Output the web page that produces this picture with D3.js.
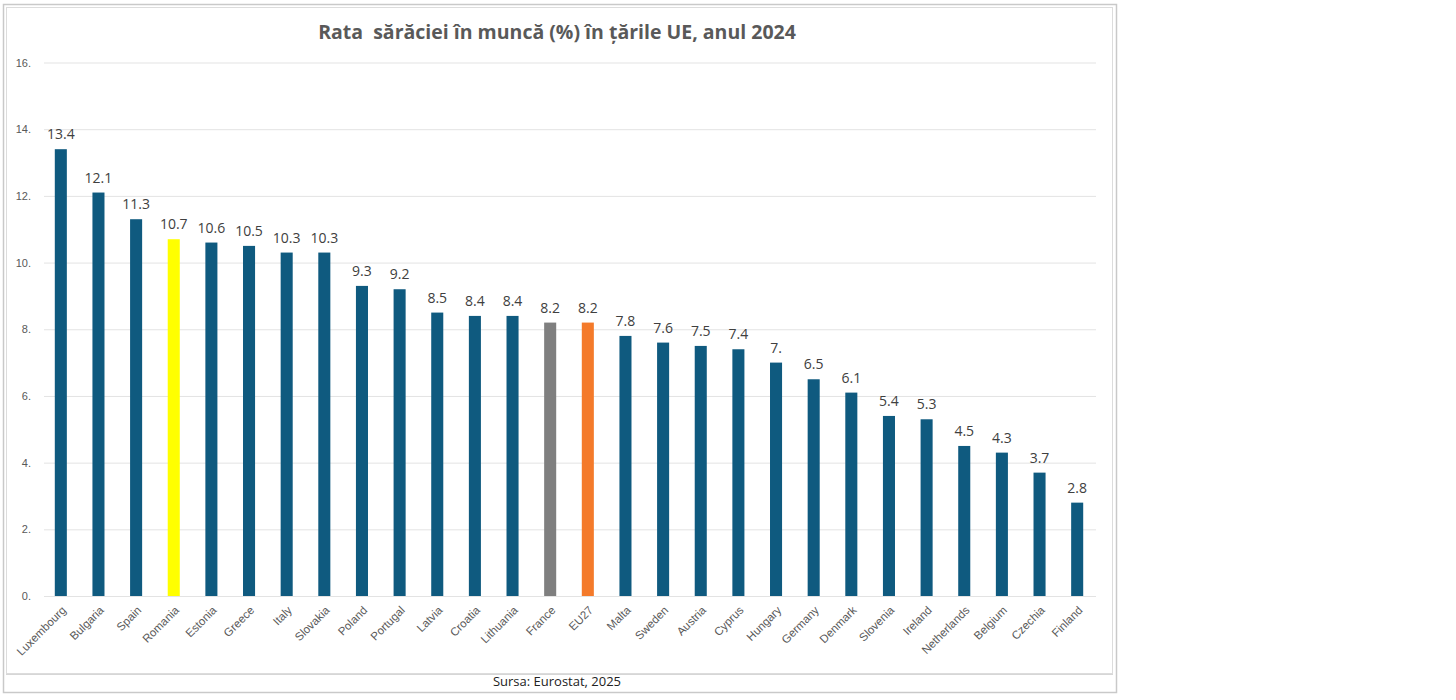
<!DOCTYPE html>
<html>
<head>
<meta charset="utf-8">
<script src="https://cdn.jsdelivr.net/npm/d3@7/dist/d3.min.js"></script>
<style>
  html, body { margin: 0; padding: 0; background: #fff; }
  svg { display: block; }
</style>
</head>
<body>
<svg id="chart" width="1456" height="700"></svg>
<script>
const countries = ["Luxembourg","Bulgaria","Spain","Romania","Estonia","Greece","Italy","Slovakia","Poland","Portugal","Latvia","Croatia","Lithuania","France","EU27","Malta","Sweden","Austria","Cyprus","Hungary","Germany","Denmark","Slovenia","Ireland","Netherlands","Belgium","Czechia","Finland"];
const values = [13.4,12.1,11.3,10.7,10.6,10.5,10.3,10.3,9.3,9.2,8.5,8.4,8.4,8.2,8.2,7.8,7.6,7.5,7.4,7.0,6.5,6.1,5.4,5.3,4.5,4.3,3.7,2.8];
const yTicks = [0,2,4,6,8,10,12,14,16];
const titleText = "Rata  sărăciei în muncă (%) în țările UE, anul 2024";
const sourceText = "Sursa: Eurostat, 2025";
const highlight = { "Romania": "#ffff00", "France": "#7f7f7f", "EU27": "#f47a2a" };
const baseColor = "#0f5a7f";

const data = countries.map((c, i) => ({ country: c, value: values[i] }));
const fmt = v => Number.isInteger(v) ? v + "." : v.toFixed(1);

const svg = d3.select("#chart");

// frame (spreadsheet-like border)
svg.append("rect").attr("x", 3.5).attr("y", 4.5).attr("width", 1113).attr("height", 688)
  .attr("fill", "#fff").attr("stroke", "#c9c9c9").attr("stroke-width", 1.5);
svg.append("rect").attr("x", 6.5).attr("y", 7.5).attr("width", 1106).attr("height", 666)
  .attr("fill", "none").attr("stroke", "#dcdcdc").attr("stroke-width", 1);

const x = d3.scaleBand().domain(countries).range([42, 1096]).paddingInner(0.68).paddingOuter(0.34);
const y = d3.scaleLinear().domain([0, 16]).range([596, 62.5]);

// gridlines
svg.append("g")
  .attr("transform", "translate(44,0)")
  .call(d3.axisLeft(y).tickValues(yTicks).tickSize(-1052).tickFormat(""))
  .call(g => g.select(".domain").remove())
  .call(g => g.selectAll("line").attr("stroke", "#e3e3e3").attr("stroke-width", 1));

// y tick labels
svg.append("g")
  .attr("transform", "translate(44,0)")
  .call(d3.axisLeft(y).tickValues(yTicks).tickSize(0).tickPadding(13).tickFormat(d => d + "."))
  .call(g => g.select(".domain").remove())
  .call(g => g.selectAll("text").attr("fill", "#595959").attr("font-size", "11px")
    .attr("font-family", "Liberation Sans, Arial, sans-serif"));

// bars
svg.append("g").selectAll("rect").data(data).join("rect")
  .attr("x", d => x(d.country))
  .attr("width", x.bandwidth())
  .attr("y", d => y(d.value))
  .attr("height", d => y(0) - y(d.value))
  .attr("fill", d => highlight[d.country] || baseColor);

// value labels
svg.append("g").selectAll("text").data(data).join("text")
  .attr("x", d => x(d.country) + x.bandwidth() / 2)
  .attr("y", d => y(d.value) - 10)
  .attr("text-anchor", "middle")
  .attr("fill", "#404040")
  .attr("font-size", "14px")
  .attr("font-family", "Open Sans, Liberation Sans, sans-serif")
  .text(d => fmt(d.value));

// x axis labels
const xa = svg.append("g").attr("transform", "translate(0,596)")
  .call(d3.axisBottom(x).tickSize(0).tickPadding(0));
xa.select(".domain").remove();
xa.selectAll("text")
  .attr("fill", "#595959")
  .attr("font-size", "11.5px")
  .attr("font-family", "Liberation Sans Narrow, Liberation Sans, Arial, sans-serif")
  .attr("text-anchor", "end")
  .attr("dy", "0")
  .attr("transform", "translate(6,15) rotate(-45)");

// title
svg.append("text")
  .attr("x", 557).attr("y", 39)
  .attr("text-anchor", "middle")
  .attr("fill", "#595959")
  .attr("font-size", "19.5px")
  .attr("font-weight", "bold")
  .attr("font-family", "Open Sans, Liberation Sans, sans-serif")
  .style("white-space", "pre")
  .text(titleText);

// source line
svg.append("line").attr("x1", 6).attr("x2", 1113).attr("y1", 674.5).attr("y2", 674.5)
  .attr("stroke", "#d6d6d6");
svg.append("text")
  .attr("x", 557).attr("y", 686)
  .attr("text-anchor", "middle")
  .attr("fill", "#222")
  .attr("font-size", "13px")
  .attr("font-family", "Open Sans, Liberation Sans, sans-serif")
  .text(sourceText);
</script>
</body>
</html>
